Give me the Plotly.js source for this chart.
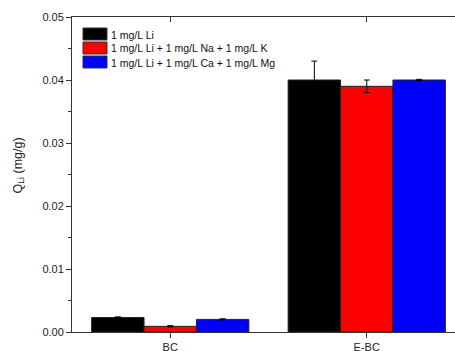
<!DOCTYPE html>
<html><head><meta charset="utf-8">
<script src="https://cdn.plot.ly/plotly-3.0.1.min.js"></script>
<style>html,body{margin:0;padding:0;overflow:hidden;background:#fff;width:455px;height:351px}</style>
</head><body><div id="chart"></div>
<script>
const categories = ['BC', 'E-BC'];
const seriesNames = ['1 mg/L Li', '1 mg/L Li + 1 mg/L Na + 1 mg/L K', '1 mg/L Li + 1 mg/L Ca + 1 mg/L Mg'];
const liOnly = [0.0023, 0.0400];
const liNaK = [0.0009, 0.0390];
const liCaMg = [0.0020, 0.0400];
const errLiOnly = [0.0001, 0.0030];
const errLiNaK = [0.0001, 0.0010];
const errLiCaMg = [0.0001, 0.0001];
const colors = ['#000000', '#ff0000', '#0000ff'];

const vals = [liOnly, liNaK, liCaMg];
const errs = [errLiOnly, errLiNaK, errLiCaMg];
const traces = vals.map((v, i) => ({
  type: 'bar', x: categories, y: v, name: seriesNames[i],
  marker: {color: colors[i], line: {color: '#222', width: 1}},
  error_y: {type: 'data', array: errs[i], visible: true, color: '#000', thickness: 1, width: 3}
}));
traces.push({type: 'scatter', x: categories, y: [null, null], xaxis: 'x2', showlegend: false, hoverinfo: 'skip'});

// plot area in px: x 72..465, y 17..332
const px = x => (x - 72) / 393;
const py = y => (332 - y) / 315;
const shapes = [], annotations = [];
seriesNames.forEach((name, i) => {
  const top = 28 + 14 * i;
  shapes.push({type: 'rect', xref: 'paper', yref: 'paper', x0: px(83), x1: px(107), y0: py(top + 12), y1: py(top),
               fillcolor: colors[i], line: {color: '#333', width: 1}});
  annotations.push({xref: 'paper', yref: 'paper', x: px(109), y: py(top + 6.5), xanchor: 'left', yanchor: 'middle',
                    text: name, showarrow: false, font: {size: 10.5, color: '#111'}});
});
annotations.push({xref: 'paper', yref: 'paper', x: px(18.5), y: py(166), xanchor: 'center', yanchor: 'middle',
                  textangle: -90, text: 'Q<sub>Li</sub> (mg/g)', showarrow: false, font: {size: 12.5, color: '#222'}});

const layout = {
  width: 466, height: 351,
  margin: {l: 72, r: 1, t: 17, b: 19},
  barmode: 'group', bargap: 0.2, bargroupgap: 0,
  paper_bgcolor: '#fff', plot_bgcolor: '#fff',
  font: {family: 'Liberation Sans, Arial, sans-serif', color: '#222'},
  showlegend: false,
  shapes: shapes, annotations: annotations,
  xaxis: {type: 'category', range: [-0.5, 1.5], showline: true, linecolor: '#333', linewidth: 1,
          ticks: 'outside', ticklen: 5, tickcolor: '#333', tickfont: {size: 11, color: '#222'},
          minor: {ticks: 'outside', ticklen: 3, tickcolor: '#333'}, zeroline: false, showgrid: false},
  xaxis2: {overlaying: 'x', matches: 'x', side: 'top', showline: true, linecolor: '#333', linewidth: 1,
           ticks: 'inside', ticklen: 5, tickcolor: '#333', showticklabels: false, showgrid: false,
           minor: {ticks: 'inside', ticklen: 3, tickcolor: '#333'}},
  yaxis: {range: [0, 0.05], dtick: 0.01, tickformat: '.2f', showline: true, linecolor: '#333', linewidth: 1,
          ticks: 'outside', ticklen: 5, tickcolor: '#333', tickfont: {size: 11, color: '#222'},
          minor: {dtick: 0.005, ticks: 'outside', ticklen: 3, tickcolor: '#333'},
          zeroline: false, showgrid: false}
};
Plotly.newPlot('chart', traces, layout, {displayModeBar: false, staticPlot: true});
</script></body></html>
